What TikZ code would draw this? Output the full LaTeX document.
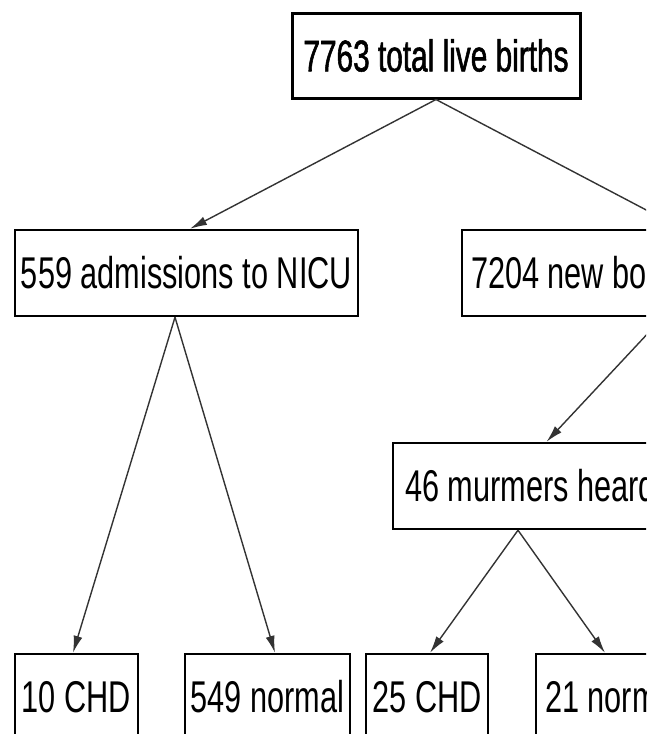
\documentclass[tikz,border=0pt]{standalone}
\usepackage{fontspec}
\setmainfont[FakeStretch=0.69]{Liberation Sans}
\newfontfamily\heavyfont[FakeStretch=0.67,FakeBold=1.2]{Liberation Sans}
\usepackage{tikz}
\usetikzlibrary{arrows.meta,positioning}

% left-set text in a box that runs off the page
\newcommand{\lefttext}[2]{\makebox[#1][l]{#2}}

\begin{document}
\begin{tikzpicture}[
    x=1pt, y=-1pt,
    box/.style={draw, line width=2.4pt, inner sep=0pt, minimum height=86pt,
        font=\fontsize{44.5}{50}\selectfont},
    link/.style={-{Latex[length=17pt,width=9pt]}, line width=1.4pt, draw=black!80}
]
    \useasboundingbox (0,0) rectangle (646,734);
    \clip (0,0) rectangle (646,734);

    % === TOP ===
    \node[box, line width=3pt, minimum width=288pt, minimum height=85pt] (births) at (436,55.5) {\heavyfont 7763 total live births};

    % === SECOND ROW ===
    \node[box, minimum width=343pt] (nicu) at (186.5,273) {559 admissions to NICU};
    \node[box, inner xsep=9pt] (newborn) at (670,273) {\lefttext{398pt}{7204 new bo}};

    % === MURMURS ===
    \node[box, inner xsep=12pt] (murmur) at (526.5,486) {\lefttext{243pt}{46 murmers heard}};

    % === OUTCOMES ===
    \node[box, minimum width=123pt] (nicuchd) at (76.5,697) {10 CHD};
    \node[box, minimum width=165pt] (nicunormal) at (267.5,697) {549 normal};
    \node[box, minimum width=122pt] (murmurchd) at (427,697) {25 CHD};
    \node[box, inner xsep=9pt] (murmurnormal) at (605,697) {\lefttext{120pt}{21 norm}};

    % === ARROWS ===
    \draw[link] (births.south) -- ([xshift=3.5pt]nicu.north);
    \draw[link] (births.south) -- ([xshift=12pt]newborn.north);
    \draw[link] ([xshift=-7pt]newborn.south) -- ([xshift=20pt]murmur.north);

    \draw[link] ([xshift=-11.5pt]nicu.south) -- ([xshift=-3.5pt]nicuchd.north);
    \draw[link] ([xshift=-11.5pt]nicu.south) -- ([xshift=7.5pt]nicunormal.north);
    \draw[link] ([xshift=-8.5pt]murmur.south) -- ([xshift=3pt]murmurchd.north);
    \draw[link] ([xshift=-8.5pt]murmur.south) -- (murmurnormal.north);

\end{tikzpicture}
\end{document}
